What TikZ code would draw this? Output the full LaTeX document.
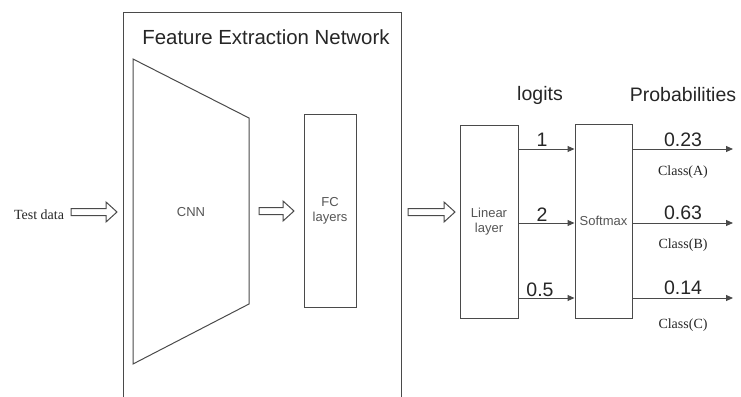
\documentclass[tikz,border=0pt]{standalone}
\usepackage{fontspec}
\setmainfont{Liberation Sans}
\newfontfamily\serifface{Liberation Serif}
\usetikzlibrary{arrows.meta}
\definecolor{linegray}{HTML}{4A4A4A}
\definecolor{labgray}{HTML}{555555}
\tikzset{
  frame/.style={draw=linegray, line width=1pt},
  boxnode/.style={draw=linegray, line width=1pt, align=center, inner sep=0pt,
    font=\fontsize{13}{15}\selectfont, text=labgray},
  bigtext/.style={font=\fontsize{19.5}{22}\selectfont, text=black!85, inner sep=0pt},
  smalltext/.style={font=\serifface\fontsize{14}{16}\selectfont, text=black!85, inner sep=0pt},
  conn/.style={draw=linegray, line width=1pt, -{Triangle[length=7pt,width=6pt]}},
  hollow/.style={draw=linegray, line width=1pt, fill=white}
}
\newcommand\hollowarr[3]{\draw[hollow] (#1,#3-3.5) -- (#2-11,#3-3.5) -- (#2-11,#3-10) -- (#2,#3) -- (#2-11,#3+10) -- (#2-11,#3+3.5) -- (#1,#3+3.5) -- cycle;}
\begin{document}
\begin{tikzpicture}[x=1pt,y=-1pt]
\useasboundingbox (0,0) rectangle (741,396);
\fill[white] (0,0) rectangle (741,396);
\clip (0,0) rectangle (741,396);
% feature extraction box
\draw[frame] (123,13) rectangle (401,410);
\node[bigtext, font=\fontsize{20.4}{23}\selectfont] (title) at (266,37) {Feature Extraction Network};
% CNN trapezoid
\coordinate (c1) at (133,59);
\coordinate (c2) at (249,118);
\coordinate (c3) at (249,304);
\coordinate (c4) at (133,364);
\draw[frame] (c1) -- (c2) -- (c3) -- (c4) -- cycle;
\node[font=\fontsize{13}{15}\selectfont, text=labgray] (cnn) at (191,212) {CNN};
% input
\node[smalltext] (test) at (39,215) {Test data};
\hollowarr{71}{117}{212}
\hollowarr{259}{294}{211}
\hollowarr{408}{455}{212}
% FC
\node[boxnode, minimum width=52pt, minimum height=193pt] (fc) at (330,210.5) {FC\\layers};
% linear and softmax
\node[boxnode, minimum width=58pt, minimum height=193pt] (lin) at (489,221.5) {Linear\\layer};
\node[boxnode, minimum width=57pt, minimum height=194pt] (soft) at (603.5,221) {Softmax};
\node[bigtext] (logits) at (540,95) {logits};
\node[bigtext] (prob) at (683,95) {Probabilities};
% logits arrows
\draw[conn] (lin.east |- 0,149) -- (soft.west |- 0,149);
\draw[conn] (lin.east |- 0,223) -- (soft.west |- 0,223);
\draw[conn] (lin.east |- 0,298) -- (soft.west |- 0,298);
\node[bigtext] (l1) at (542,140) {1};
\node[bigtext] (l2) at (542,215) {2};
\node[bigtext] (l3) at (540,290) {0.5};
% outputs
\coordinate (oa) at (733,149);
\coordinate (ob) at (733,223);
\coordinate (oc) at (733,298);
\draw[conn] (soft.east |- oa) -- (oa);
\draw[conn] (soft.east |- ob) -- (ob);
\draw[conn] (soft.east |- oc) -- (oc);
\node[bigtext] (pa) at (683,140) {0.23};
\node[bigtext] (pb) at (683,213) {0.63};
\node[bigtext] (pc) at (683,288) {0.14};
\node[smalltext] (ca) at (683,172) {Class(A)};
\node[smalltext] (cb) at (683,245) {Class(B)};
\node[smalltext] (cc) at (683,325) {Class(C)};
\end{tikzpicture}
\end{document}
